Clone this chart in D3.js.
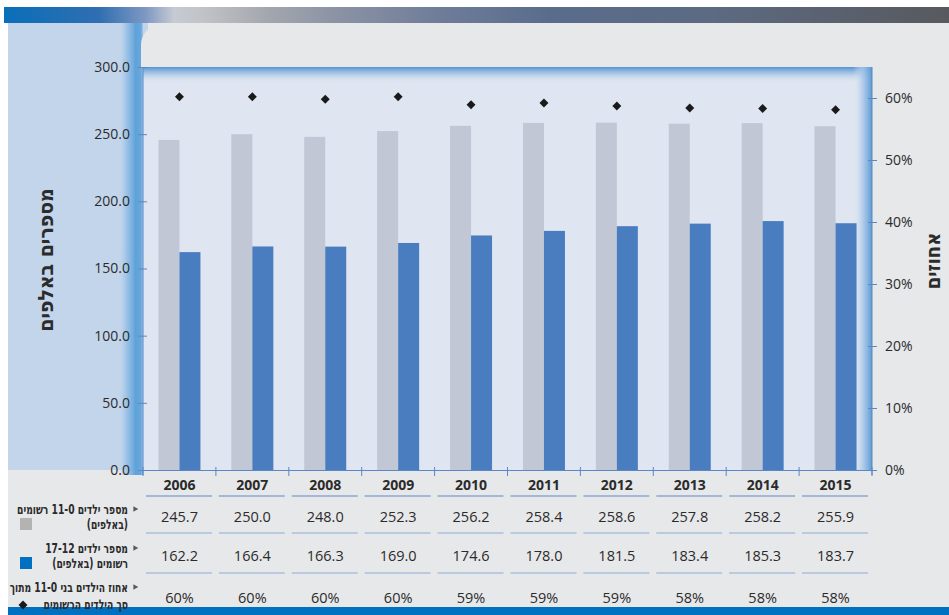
<!DOCTYPE html>
<html>
<head>
<meta charset="utf-8">
<script src="https://cdn.jsdelivr.net/npm/d3@7"></script>
<style>
  html, body { margin: 0; padding: 0; background: #fff; }
  svg { display: block; }
  text { font-family: "Open Sans", "Liberation Sans", sans-serif; fill: #2b2b2b; }
  .heb { font-family: "DejaVu Sans Condensed", "DejaVu Sans", sans-serif; font-weight: bold; }
</style>
</head>
<body>
<div id="chart"></div>
<script>
const width = 949;
const height = 615;

// data
const years = ["2006", "2007", "2008", "2009", "2010", "2011", "2012", "2013", "2014", "2015"];
const kids0to11 = [245.7, 250.0, 248.0, 252.3, 256.2, 258.4, 258.6, 257.8, 258.2, 255.9];
const kids12to17 = [162.2, 166.4, 166.3, 169.0, 174.6, 178.0, 181.5, 183.4, 185.3, 183.7];
const share0to11 = [0.602, 0.602, 0.598, 0.602, 0.589, 0.592, 0.587, 0.584, 0.583, 0.581];
const shareLabels = ["60%", "60%", "60%", "60%", "59%", "59%", "59%", "58%", "58%", "58%"];
const leftTicks = [0, 50, 100, 150, 200, 250, 300];
const rightTicks = [0, 0.1, 0.2, 0.3, 0.4, 0.5, 0.6];

const RLM = "\u200F";
const leftTitle = "מספרים באלפים";
const rightTitle = "אחוזים";
const rowLabels = [
  ["מספר ילדים 11-0 רשומים", "(באלפים)"],
  ["מספר ילדים 17-12", "רשומים (באלפים)"],
  ["אחוז הילדים בני 11-0 מתוך", "סך הילדים הרשומים"]
];

const margin = { top: 67, right: 77, bottom: 145, left: 143 };
const plotW = width - margin.left - margin.right;   // 729
const plotH = height - margin.top - margin.bottom;  // 403

const colGray = "#c1c7d4";
const colBlue = "#4a7dc0";
const axisCol = "#5b87c5";

const svg = d3.select("#chart").append("svg")
  .attr("width", width)
  .attr("height", height);

const defs = svg.append("defs");

function linGrad(id, x1, y1, x2, y2, stops) {
  const g = defs.append("linearGradient").attr("id", id)
    .attr("x1", x1).attr("y1", y1).attr("x2", x2).attr("y2", y2);
  stops.forEach(s => g.append("stop").attr("offset", s[0]).attr("stop-color", s[1]).attr("stop-opacity", s[2] == null ? 1 : s[2]));
}

linGrad("topbar", 0, 0, 1, 0, [
  [0, "#0a6fb9"], [0.1, "#2f6eb1"], [0.15, "#7f98c3"], [0.18, "#c6cad3"],
  [0.21, "#c2c3c7"], [0.28, "#a3a6ae"], [0.35, "#8b93a5"], [0.47, "#6d7b98"],
  [0.58, "#596c8c"], [0.75, "#5c6a82"], [1, "#58595e"]
]);
linGrad("leftglow", 0, 0, 1, 0, [[0, "#c3d5eb", 0], [0.35, "#8dbbe4", 0.75], [0.7, "#5fa2d9", 1], [0.92, "#68a7db", 1], [1, "#a8c8ea", 1]]);
linGrad("topglow", 0, 0, 0, 1, [[0, "#5595d2", 1], [0.4, "#9bbde3", 0.8], [1, "#dfe6f2", 0]]);
linGrad("rightglow", 0, 0, 1, 0, [[0, "#dfe6f2", 0], [0.5, "#a9c7e8", 0.8], [1, "#5b9bd5", 1]]);

// ---- backgrounds ----
svg.append("rect").attr("x", 4).attr("y", 7).attr("width", width - 4).attr("height", 16).attr("fill", "url(#topbar)");
svg.append("rect").attr("x", 8).attr("y", 23).attr("width", width - 8).attr("height", 584).attr("fill", "#e7e8ea");
svg.append("rect").attr("x", 8).attr("y", 23).attr("width", 140).attr("height", 447).attr("fill", "#c3d5eb");
svg.append("rect").attr("x", 118).attr("y", 23).attr("width", 25).attr("height", 452).attr("fill", "url(#leftglow)");

// grey panel with rounded top-left corner
const r = 21;
svg.append("path")
  .attr("fill", "#e7e8ea")
  .attr("d", `M141,${margin.top} V${24 + r} A${r},${r} 0 0 1 ${141 + r},24 H${width} V${margin.top} Z`);
svg.append("rect").attr("x", margin.left + plotW).attr("y", 24).attr("width", margin.right).attr("height", plotH + 50).attr("fill", "#e7e8ea");

svg.append("rect").attr("x", 8).attr("y", 607).attr("width", width - 8).attr("height", 8).attr("fill", "#0070c0");

// ---- plot ----
const g = svg.append("g").attr("transform", `translate(${margin.left},${margin.top})`);

g.append("rect").attr("width", plotW).attr("height", plotH).attr("fill", "#dfe6f2");
g.append("rect").attr("width", plotW).attr("height", 16).attr("fill", "url(#topglow)");
g.append("rect").attr("x", plotW - 19).attr("width", 19).attr("height", plotH).attr("fill", "url(#rightglow)");

const x = d3.scaleBand().domain(years).range([0, plotW]);
const xSub = d3.scaleBand().domain([0, 1]).range([0, x.bandwidth()]).paddingOuter(0.736);
const yL = d3.scaleLinear().domain([0, 300]).range([plotH, 0]);
const yR = d3.scaleLinear().domain([0, 0.65]).range([plotH, 0]);

const series = [kids0to11, kids12to17];
const seriesColor = [colGray, colBlue];

series.forEach((vals, si) => {
  g.append("g").selectAll("rect")
    .data(vals)
    .join("rect")
    .attr("x", (d, i) => x(years[i]) + xSub(si))
    .attr("y", d => yL(d))
    .attr("width", xSub.bandwidth())
    .attr("height", d => plotH - yL(d))
    .attr("fill", seriesColor[si]);
});

const diamond = d3.symbol().type(d3.symbolSquare).size(40);
g.append("g").selectAll("path")
  .data(share0to11)
  .join("path")
  .attr("d", diamond)
  .attr("transform", (d, i) => `translate(${x(years[i]) + x.bandwidth() / 2},${yR(d)}) rotate(45)`)
  .attr("fill", "#1a1a1a");

// ---- axes ----
const axL = g.append("g")
  .call(d3.axisLeft(yL).tickValues(leftTicks).tickFormat(d3.format(".1f")).tickSize(5).tickPadding(8));
axL.selectAll(".tick line").attr("x2", -5).attr("x1", 4);

const axR = g.append("g").attr("transform", `translate(${plotW},0)`)
  .call(d3.axisRight(yR).tickValues(rightTicks).tickFormat(d3.format(".0%")).tickSize(5).tickPadding(8));
axR.selectAll(".tick line").attr("x2", 5).attr("x1", -4);

[axL, axR].forEach(ax => {
  ax.select(".domain").attr("stroke", axisCol).attr("d", `M0,0 V${plotH + 5}`);
  ax.selectAll(".tick line").attr("stroke", axisCol);
  ax.selectAll(".tick text").attr("font-size", 14).attr("fill", "#2b2b2b")
    .style("font-family", '"Open Sans", sans-serif');
});

// bottom axis: band boundaries
g.append("line").attr("x1", 0).attr("x2", plotW).attr("y1", plotH + 0.5).attr("y2", plotH + 0.5)
  .attr("stroke", axisCol);
g.append("g").selectAll("line")
  .data(years.map(d => x(d)).concat([plotW]))
  .join("line")
  .attr("x1", d => d).attr("x2", d => d)
  .attr("y1", plotH - 3).attr("y2", plotH + 6)
  .attr("stroke", axisCol);

// ---- titles ----
svg.append("text").attr("class", "heb")
  .attr("transform", "translate(53,260) rotate(-90)")
  .attr("text-anchor", "middle")
  .attr("font-size", 21)
  .attr("fill", "#151515")
  .text(leftTitle);

svg.append("text").attr("class", "heb")
  .attr("transform", "translate(940,261) rotate(-90)")
  .attr("text-anchor", "middle")
  .attr("font-size", 20)
  .attr("fill", "#151515")
  .text(rightTitle);

// ---- data table ----
const tableRows = [
  { y: 490, labels: years, bold: true, line: 496 },
  { y: 522, labels: kids0to11.map(d => d.toFixed(1)), line: 533 },
  { y: 561, labels: kids12to17.map(d => d.toFixed(1)), line: 573 },
  { y: 603, labels: shareLabels, line: null }
];

tableRows.forEach(row => {
  g.append("g").selectAll("text")
    .data(row.labels)
    .join("text")
    .attr("x", (d, i) => x(years[i]) + x.bandwidth() / 2)
    .attr("y", row.y - margin.top)
    .attr("text-anchor", "middle")
    .attr("font-size", row.bold ? 14 : 14.5)
    .attr("font-weight", row.bold ? "bold" : "normal")
    .attr("fill", row.bold ? "#1e1e1e" : "#2b2b2b")
    .text(d => d);
  if (row.line) {
    g.append("g").selectAll("line")
      .data(years)
      .join("line")
      .attr("x1", d => x(d) + 3)
      .attr("x2", d => x(d) + x.bandwidth() - 4)
      .attr("y1", row.line - margin.top)
      .attr("y2", row.line - margin.top)
      .attr("stroke", row.bold ? "#5e88c6" : "#8aa9d6")
      .attr("stroke-width", 1.2);
  }
});

// ---- row legend (right aligned, rtl, horizontally condensed) ----
const legendY = [[514, 529], [553, 568], [592, 609]];
const markerY = [524, 563, 605];
const triangle = d3.symbol().type(d3.symbolTriangle).size(14);
const legendRight = 128;

const legendTexts = [];
rowLabels.forEach((lines, ri) => {
  lines.forEach((t, li) => {
    const tx = svg.append("text").attr("class", "heb")
      .attr("x", 0)
      .attr("y", 0)
      .attr("text-anchor", "end")
      .attr("font-size", 13.5)
      .attr("fill", "#1e1e1e")
      .text(RLM + t + RLM);
    legendTexts.push({ tx, y: legendY[ri][li] });
  });
  svg.append("path")
    .attr("d", triangle)
    .attr("transform", `translate(135,${legendY[ri][0] - 5}) rotate(90)`)
    .attr("fill", "#5a5a5a");
});
// first label spans ~111px in the reference; squeeze all lines by the same factor
const squeeze = 111 / legendTexts[0].tx.node().getComputedTextLength();
legendTexts.forEach(o => o.tx.attr("transform", `translate(${legendRight},${o.y}) scale(${squeeze},1)`));

svg.append("rect").attr("x", 20).attr("y", markerY[0] - 6).attr("width", 12).attr("height", 12).attr("fill", "#b3b3b3");
svg.append("rect").attr("x", 20).attr("y", markerY[1] - 6).attr("width", 12).attr("height", 12).attr("fill", "#0070c0");
svg.append("path").attr("d", diamond)
  .attr("transform", `translate(23,${markerY[2]}) rotate(45)`)
  .attr("fill", "#1a1a1a");
</script>
</body>
</html>
